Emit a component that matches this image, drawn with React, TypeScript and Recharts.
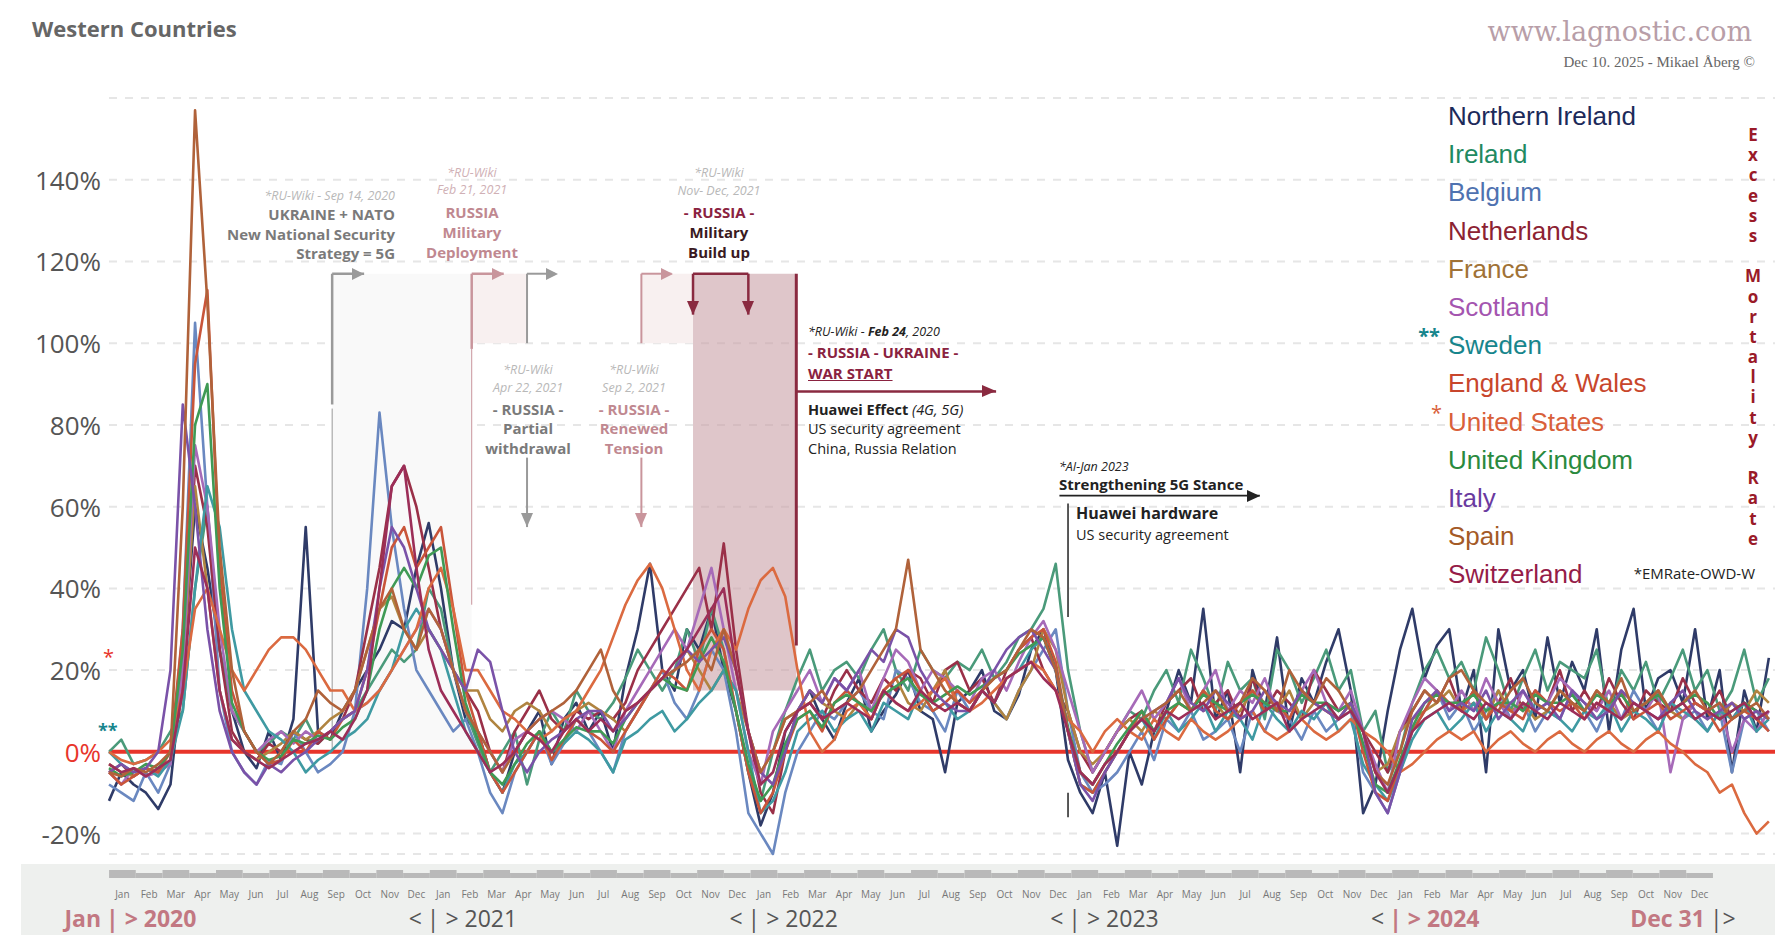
import React from "react";
import { LineChart, Line, XAxis, YAxis, CartesianGrid, ReferenceLine, ReferenceArea } from "recharts";

const seriesNames = ["Northern Ireland","Ireland","Belgium","Netherlands","France","Scotland","Sweden","England & Wales","United States","United Kingdom","Italy","Spain","Switzerland"];
const legendColors = ["#1c2a5a","#1f8a62","#4f72b0","#8c2232","#a07236","#a455b0","#17858c","#c8462c","#d9603a","#2a8a3e","#6a3aa0","#a45a26","#951c48"];
const lineColors = ["#2f3b68","#4a9a7a","#6a88c0","#9a3048","#b08440","#a66ab8","#3f9aa2","#c9553a","#db6a40","#3f9a55","#7a52a8","#b0623a","#9c2e58"];

const northernIreland = [-12,-5,-8,-10,-14,-8,20,60,45,25, 10,0,-4,5,-2,8,55,5,3,10, 15,20,25,32,30,45,56,40,20,8, 5,-5,-10,0,5,10,-3,8,12,5, 10,0,18,30,46,20,15,30,25,35, 20,10,-5,-18,-10,5,10,15,8,3, 12,18,5,10,14,20,10,8,-5,12, 15,20,10,8,14,25,30,20,-2,-10, -15,-5,-23,0,-8,5,10,20,12,35, 8,15,-5,20,10,28,5,18,12,22, 30,15,-15,-8,10,25,35,18,26,30, 10,20,-5,30,15,20,8,28,12,22, 15,30,5,25,35,10,18,20,12,30, 8,20,-5,15,5,23];
const ireland = [0,3,-3,-2,0,5,10,40,60,25, 10,5,0,2,5,3,8,2,5,8, 10,15,20,25,22,25,40,35,20,10, 2,-5,0,5,-8,3,10,5,15,10, 8,12,18,25,20,15,20,30,22,35, 25,10,-5,-12,0,10,18,25,15,20, 22,18,25,30,20,15,25,20,18,22, 20,25,18,22,28,30,35,46,20,5, -5,0,5,10,8,15,20,12,25,18, 10,22,15,18,8,25,20,12,18,25, 15,20,5,10,-5,0,12,20,25,18, 22,15,28,20,10,18,25,15,22,20, 18,25,10,20,15,22,12,18,25,15, 20,10,15,25,12,18];
const belgium = [-8,-10,-12,-5,-10,-3,30,105,60,15, 0,-5,-8,-2,-3,5,0,-5,-3,0, 10,40,83,55,35,20,15,10,5,8, 0,-10,-15,-5,0,5,-3,2,8,5, 0,-5,5,10,15,20,12,8,15,25, 20,5,-15,-20,-25,-10,0,5,10,8, 12,15,10,8,20,18,12,10,5,15, 10,15,12,8,15,20,25,30,10,-5, -10,-8,-5,0,5,-2,8,5,10,3, 5,8,0,10,5,12,8,3,10,5, 8,10,-5,-10,-15,-5,5,10,15,8, 12,5,10,15,8,12,5,10,8,15, 10,5,12,8,15,10,5,12,8,10, 5,10,-5,8,10,5];
const netherlands = [-5,-3,-6,-4,-5,-2,15,70,55,25, 5,0,-2,2,0,5,3,2,5,8, 15,30,45,65,70,60,45,30,20,15, 10,0,-5,5,10,15,8,5,10,8, 10,8,12,20,25,30,35,40,45,30, 51,25,5,-10,-15,0,10,12,8,15, 20,15,12,18,15,20,18,12,20,22, 15,18,12,20,25,28,20,15,10,0, -5,0,5,8,10,5,12,15,18,10, 12,15,8,18,10,15,12,8,20,15, 10,12,5,0,-5,5,10,15,12,18, 10,15,8,12,18,10,15,12,20,10, 15,10,18,12,8,15,12,10,18,12, 10,15,8,12,10,8];
const france = [-3,-5,-6,-4,-5,-2,20,65,40,15, 3,0,-2,0,2,5,3,5,8,10, 15,25,35,38,30,25,30,25,20,15, 15,8,5,10,12,10,5,8,10,12, 10,8,5,10,15,18,20,25,20,15, 20,15,5,-5,0,8,10,15,12,10, 8,12,10,15,18,12,10,15,20,12, 10,15,12,8,15,20,30,25,10,0, -3,0,5,8,5,10,8,12,10,15, 12,8,10,15,12,10,15,8,12,10, 8,12,5,-5,-3,5,8,10,12,15, 10,12,8,15,10,12,8,10,15,12, 10,15,12,8,10,12,15,10,8,12, 10,8,12,10,15,12];
const scotland = [-5,-8,-4,-6,-5,-3,20,75,60,30, 10,5,0,3,5,2,5,3,5,8, 10,12,15,20,25,30,35,30,20,10, 5,0,-5,3,5,8,10,8,5,10, 5,0,10,15,20,25,30,25,35,45, 30,15,0,-8,5,10,15,20,12,18, 15,20,10,18,25,22,15,20,18,15, 12,18,20,15,22,28,32,25,15,5, -5,0,5,10,15,8,12,18,10,15, 20,10,15,12,18,10,8,15,20,12, 10,15,5,-3,-10,5,12,18,15,10, 15,10,18,12,8,15,10,12,18,15, 12,10,15,8,12,10,15,-5,8,12, 10,12,0,8,5,10];
const sweden = [0,-3,-5,-4,-6,-2,10,40,65,55, 30,15,10,5,3,0,-5,-2,0,3, 5,8,15,20,30,35,30,25,15,5, 0,-5,-10,-3,0,5,0,2,5,3, 0,-5,3,5,8,10,5,8,12,15, 20,15,0,-15,-12,-5,5,8,10,5, 8,10,5,12,10,8,15,10,12,8, 10,15,12,18,20,25,28,20,5,-8, -10,-5,0,5,8,3,10,5,8,12, 5,10,8,3,12,8,5,10,8,12, 5,8,-3,-8,-12,-5,3,8,10,5, 8,12,5,10,8,5,12,10,8,5, 10,8,12,5,10,8,5,12,10,8, 5,10,8,12,5,8];
const englandWales = [-5,-8,-6,-4,-5,0,30,95,113,45, 15,5,0,-3,-2,3,0,5,3,8, 10,20,35,50,55,45,50,55,35,15, 5,-5,-10,-5,0,5,-2,3,8,5, 3,0,5,10,15,20,18,15,25,30, 25,10,-5,-15,-10,0,8,10,5,12, 15,12,8,15,18,20,15,10,12,15, 12,15,18,20,25,28,30,22,5,-8, -10,-5,0,5,10,3,8,12,10,15, 10,8,12,15,10,12,8,15,12,10, 8,12,0,-10,-12,-3,5,10,15,12, 10,15,8,12,10,8,15,12,10,12, 8,12,10,15,8,10,12,8,10,12, 10,5,8,10,8,5];
const unitedStates = [0,-2,-3,-2,0,3,15,35,40,30, 20,15,20,25,28,28,25,20,15,15, 10,12,15,20,25,30,40,45,35,20, 20,15,10,8,5,3,5,8,10,15, 20,28,36,42,46,40,30,20,15,25, 30,25,35,42,45,38,20,5,0,3, 10,12,8,15,12,10,12,15,18,12, 10,12,15,18,20,22,20,15,8,5, 0,5,8,5,3,8,5,3,8,5, 3,5,8,10,5,3,5,8,5,3, 5,8,5,3,0,-5,-3,0,3,5, 3,5,0,3,5,2,0,3,5,2, 0,3,5,2,0,3,5,2,0,-3, -5,-10,-8,-15,-20,-17];
const unitedKingdom = [-4,-6,-5,-3,-4,0,25,80,90,40, 12,5,0,-2,-1,3,2,4,3,6, 8,15,30,40,45,40,48,50,30,12, 3,-5,-8,-3,2,5,0,3,6,5, 5,2,8,12,15,18,16,15,22,28, 22,10,-3,-12,-8,2,8,10,6,12, 14,12,10,14,16,18,14,12,14,16, 14,16,18,20,24,26,28,20,6,-5, -8,-3,2,6,10,5,10,12,10,14, 12,10,12,14,12,10,10,14,12,12, 10,12,2,-8,-10,-2,6,12,14,12, 12,14,10,12,12,10,14,12,12,14, 10,14,12,14,10,12,14,10,12,14, 12,8,10,12,10,8];
const italy = [-5,-3,-5,-4,0,20,85,60,30,10, 0,-5,-8,-3,-5,-2,0,3,5,8, 10,20,40,55,50,40,30,25,20,15, 25,22,10,0,-5,0,3,5,8,10, 10,5,8,12,15,18,20,25,22,25, 28,20,5,-5,-8,0,10,15,12,18, 15,20,25,22,30,28,20,15,12,10, 10,15,20,25,28,30,25,20,5,-8, -12,-5,0,5,8,10,12,18,12,10, 15,12,8,10,15,12,10,15,12,10, 8,12,5,-10,-15,-5,8,12,15,10, 12,10,15,8,12,15,10,12,8,15, 12,8,10,15,12,10,8,12,15,10, 8,10,12,8,10,8];
const spain = [-5,-6,-4,-5,-3,0,60,157,110,50, 20,5,0,-3,0,5,8,15,12,10, 15,25,35,40,30,25,35,30,20,10, 5,0,-5,0,5,8,10,12,15,20, 25,15,10,12,15,18,20,22,25,20, 30,20,5,-5,0,8,10,12,15,10, 12,15,20,25,30,47,25,20,15,12, 10,15,18,20,25,30,28,20,5,-5, -8,-3,0,5,8,10,12,15,10,12, 15,10,12,18,15,10,20,15,12,18, 15,10,5,-5,-8,0,10,15,12,18, 20,15,12,10,15,18,12,10,15,12, 10,15,12,18,10,12,15,10,12,15, 10,12,8,10,12,8];
const switzerland = [-3,-5,-4,-6,-4,-2,15,50,40,15, 3,0,-2,-4,-2,0,2,3,5,3, 8,15,40,65,70,45,25,15,10,5, 0,-5,-3,0,5,3,0,5,8,5, 8,5,10,12,15,18,22,25,30,35, 40,20,5,-8,-5,5,10,12,8,10, 12,10,8,15,12,10,15,12,10,12, 10,15,12,18,20,22,18,15,5,-5, -8,-3,0,5,8,5,10,8,10,12, 8,10,12,8,10,12,5,8,10,12, 8,10,5,-5,-10,-3,5,8,10,12, 10,8,12,10,8,12,10,8,12,10, 8,12,10,8,12,10,8,10,12,8, 10,8,10,12,8,10];

const allSeries = [northernIreland, ireland, belgium, netherlands, france, scotland, sweden, englandWales, unitedStates, unitedKingdom, italy, spain, switzerland];
const keys = ["ni","ie","be","nl","fr","sc","se","ew","us","uk","it","es","ch"];
const monthLabels = ["Jan","Feb","Mar","Apr","May","Jun","Jul","Aug","Sep","Oct","Nov","Dec"];
const years = [2020, 2021, 2022, 2023, 2024];
const yTicks = [-20, 0, 20, 40, 60, 80, 100, 120, 140];
const WEEKS_PER_YEAR = 52.18;

const data = northernIreland.map((_, i) => {
  const row: any = { w: i * 2 };
  keys.forEach((k, s) => { row[k] = allSeries[s][i]; });
  return row;
});
const monthTicks = Array.from({ length: 60 }, (_, m) => (m + 0.5) * WEEKS_PER_YEAR / 12);
const yearTicks = [...years.map((y, i) => i * WEEKS_PER_YEAR), 5 * WEEKS_PER_YEAR];

const FONT = "'Open Sans', 'Liberation Sans', sans-serif";
const ROSE = "#c27882";

const MonthTick = (p: any) => {
  const idx = p.index;
  const h = idx % 2 === 0 ? 8 : 5;
  return (
    <g>
      <rect x={p.x - 13.3} y={p.y + 24 - h} width={26.7} height={h} fill="#b9b9b9" />
      <text x={p.x} y={p.y + 40} textAnchor="middle" dominantBaseline="central" fontSize={10} fill="#777" fontFamily={FONT}>{monthLabels[idx % 12]}</text>
    </g>
  );
};

const YearTick = (p: any) => {
  const i = p.index;
  const x = p.x, y = p.y + 19;
  const fs = 23;
  if (i === 0) return (
    <g fontFamily={FONT} fontSize={fs} dominantBaseline="central">
      <text x={x - 8} y={y} textAnchor="end" fill={ROSE} fontWeight="bold">Jan</text>
      <text x={x - 3} y={y} fill={ROSE} fontWeight="bold">| &gt; 2020</text>
    </g>
  );
  if (i === 5) return (
    <g fontFamily={FONT} fontSize={fs} dominantBaseline="central">
      <text x={x - 8} y={y} textAnchor="end" fill={ROSE} fontWeight="bold">Dec 31</text>
      <text x={x - 3} y={y} fill="#555">|&gt;</text>
    </g>
  );
  const highlight = years[i] === 2024;
  return (
    <g fontFamily={FONT} fontSize={fs} dominantBaseline="central">
      <text x={x - 8} y={y} textAnchor="end" fill="#555">&lt;</text>
      <text x={x - 3} y={y} fill={highlight ? ROSE : "#555"} fontWeight={highlight ? "bold" : "normal"}>| &gt; {years[i]}</text>
    </g>
  );
};

const YTick = (p: any) => {
  const v = p.payload.value;
  return (
    <text x={p.x - 6} y={p.y} textAnchor="end" dominantBaseline="central" fontSize={26} fontFamily={FONT} fill={v === 0 ? "#e8352b" : "#555"}>{v}%</text>
  );
};

const T = ({ x, y, a = "middle", children, s = {} }: any) => {
  const tx = a === "middle" ? "-50%" : a === "end" ? "-100%" : "0";
  return <div style={{ position: "absolute", left: x, top: y, transform: `translate(${tx},-50%)`, whiteSpace: "nowrap", fontFamily: FONT, textAlign: a === "middle" ? "center" : a === "end" ? "right" : "left", ...s }}>{children}</div>;
};

const wiki = { fontSize: 12.5, fontStyle: "italic", color: "#b8b8b8" };
const boldGray = { fontSize: 15, fontWeight: 700, color: "#7a7a7a" };
const boldPink = { fontSize: 15, fontWeight: 700, color: "#c08890" };
const boldMaroon = { fontSize: 15, fontWeight: 700, color: "#8a2240" };
const dark = { fontSize: 14.5, color: "#222" };

const GRAY = "#9a9a9a", PINK = "#c9959c", MAROON = "#8a2a40";

export default function App() {
  const vertical = "Excess Mortality Rate".split("");
  return (
    <div style={{ position: "relative", width: 1792, height: 943, margin: -8, background: "#fff", overflow: "hidden" }}>
      <div style={{ position: "absolute", left: 21, top: 864, width: 1754, height: 80, background: "#eef0ee" }} />
      <LineChart width={1792} height={943} data={data} margin={{ top: 98, right: 17, bottom: 0, left: 0 }} style={{ position: "absolute", left: 0, top: 0 }}>
        <CartesianGrid horizontal vertical={false} stroke="#e6e6e6" strokeDasharray="8 8" strokeWidth={2} />
        <XAxis xAxisId="m" dataKey="w" type="number" domain={[0, 271]} ticks={monthTicks} tick={<MonthTick />} tickLine={false} axisLine={false} height={45} tickSize={0} tickMargin={0} interval={0} />
        <XAxis xAxisId="y" dataKey="w" type="number" domain={[0, 271]} ticks={yearTicks} tick={<YearTick />} tickLine={false} axisLine={false} height={44} tickSize={0} tickMargin={0} interval={0} />
        <YAxis type="number" domain={[-25, 160]} ticks={yTicks} tick={<YTick />} width={109} axisLine={false} tickLine={false} tickSize={0} interval={0} />

        <ReferenceArea xAxisId="m" x1={36.3} x2={59} y1={0} y2={117} fill="#f9f9f9" fillOpacity={1} stroke="none" ifOverflow="visible" />
        <ReferenceArea xAxisId="m" x1={59} x2={68} y1={100} y2={117} fill="#f8f0f0" fillOpacity={1} stroke="none" ifOverflow="visible" />
        <ReferenceArea xAxisId="m" x1={86.6} x2={95} y1={100} y2={117} fill="#f8f0f0" fillOpacity={1} stroke="none" ifOverflow="visible" />
        <ReferenceArea xAxisId="m" x1={95} x2={111.8} y1={15} y2={117} fill="#c9a0a6" fillOpacity={0.6} stroke="none" ifOverflow="visible" />

        <ReferenceLine xAxisId="m" y={0} stroke="#e8352b" strokeWidth={4} />

        <ReferenceLine xAxisId="m" segment={[{ x: 36.3, y: 84 }, { x: 36.3, y: 0 }]} stroke={GRAY} strokeWidth={1} ifOverflow="visible" />
        <ReferenceLine xAxisId="m" segment={[{ x: 59, y: 98.6 }, { x: 59, y: 36 }]} stroke={PINK} strokeWidth={1} ifOverflow="visible" />

        {keys.map((k, s) => (
          <Line key={k} xAxisId="m" dataKey={k} type="linear" stroke={lineColors[s]} strokeWidth={2.6} dot={false} isAnimationActive={false} strokeLinejoin="round" />
        ))}

        <ReferenceLine xAxisId="m" segment={[{ x: 36.3, y: 117 }, { x: 36.3, y: 85 }]} stroke={GRAY} strokeWidth={2.5} ifOverflow="visible" />
        <ReferenceLine xAxisId="m" segment={[{ x: 36.3, y: 117 }, { x: 41.5, y: 117 }]} stroke={GRAY} strokeWidth={2.5} ifOverflow="visible" />
        <ReferenceLine xAxisId="m" segment={[{ x: 59, y: 117 }, { x: 59, y: 98.6 }]} stroke={PINK} strokeWidth={2.5} ifOverflow="visible" />
        <ReferenceLine xAxisId="m" segment={[{ x: 59, y: 117 }, { x: 64.2, y: 117 }]} stroke={PINK} strokeWidth={2.5} ifOverflow="visible" />
        <ReferenceLine xAxisId="m" segment={[{ x: 68, y: 117 }, { x: 68, y: 100 }]} stroke={GRAY} strokeWidth={2} ifOverflow="visible" />
        <ReferenceLine xAxisId="m" segment={[{ x: 68, y: 117 }, { x: 72.5, y: 117 }]} stroke={GRAY} strokeWidth={2} ifOverflow="visible" />
        <ReferenceLine xAxisId="m" segment={[{ x: 68, y: 72 }, { x: 68, y: 55 }]} stroke={GRAY} strokeWidth={2} ifOverflow="visible" />
        <ReferenceLine xAxisId="m" segment={[{ x: 86.6, y: 117 }, { x: 86.6, y: 100 }]} stroke={PINK} strokeWidth={2} ifOverflow="visible" />
        <ReferenceLine xAxisId="m" segment={[{ x: 86.6, y: 117 }, { x: 91.5, y: 117 }]} stroke={PINK} strokeWidth={2} ifOverflow="visible" />
        <ReferenceLine xAxisId="m" segment={[{ x: 86.6, y: 72 }, { x: 86.6, y: 55 }]} stroke={PINK} strokeWidth={2} ifOverflow="visible" />
        <ReferenceLine xAxisId="m" segment={[{ x: 95, y: 117 }, { x: 104, y: 117 }]} stroke={MAROON} strokeWidth={2.5} ifOverflow="visible" />
        <ReferenceLine xAxisId="m" segment={[{ x: 95, y: 117 }, { x: 95, y: 107 }]} stroke={MAROON} strokeWidth={2.5} ifOverflow="visible" />
        <ReferenceLine xAxisId="m" segment={[{ x: 104, y: 117 }, { x: 104, y: 107 }]} stroke={MAROON} strokeWidth={2.5} ifOverflow="visible" />
        <ReferenceLine xAxisId="m" segment={[{ x: 111.8, y: 117 }, { x: 111.8, y: 26 }]} stroke={MAROON} strokeWidth={3} ifOverflow="visible" />
        <ReferenceLine xAxisId="m" segment={[{ x: 111.8, y: 88.2 }, { x: 144.3, y: 88.2 }]} stroke={MAROON} strokeWidth={2.5} ifOverflow="visible" />
        <ReferenceLine xAxisId="m" segment={[{ x: 156, y: 60.8 }, { x: 156, y: 33 }]} stroke="#222" strokeWidth={1.5} ifOverflow="visible" />
        <ReferenceLine xAxisId="m" segment={[{ x: 156, y: -10 }, { x: 156, y: -16 }]} stroke="#222" strokeWidth={1.5} ifOverflow="visible" />
        <ReferenceLine xAxisId="m" segment={[{ x: 154.6, y: 62.7 }, { x: 187.2, y: 62.7 }]} stroke="#222" strokeWidth={1.8} ifOverflow="visible" />
      </LineChart>

      <svg width={1792} height={943} style={{ position: "absolute", left: 0, top: 0, pointerEvents: "none" }}>
        <polygon points="364,274 352,268 352,280" fill={GRAY} />
        <polygon points="504,274 492,268 492,280" fill={PINK} />
        <polygon points="558,274 546,268 546,280" fill={GRAY} />
        <polygon points="673,274 661,268 661,280" fill={PINK} />
        <polygon points="527,527 521,513 533,513" fill={GRAY} />
        <polygon points="641,527 635,513 647,513" fill={PINK} />
        <polygon points="693,315 687,301 699,301" fill={MAROON} />
        <polygon points="748,315 742,301 754,301" fill={MAROON} />
        <polygon points="996,391 982,385 982,397" fill={MAROON} />
        <polygon points="1260,496 1247,490 1247,502" fill="#222" />
      </svg>

      <T x={32} y={28} a="start" s={{ fontSize: 22, fontWeight: 700, color: "#666" }}>Western Countries</T>
      <T x={1752} y={31} a="end" s={{ fontSize: 27, color: "#b89ea8", fontFamily: "'DejaVu Serif', 'Liberation Serif', serif" }}>www.lagnostic.com</T>
      <T x={1755} y={62} a="end" s={{ fontSize: 15, color: "#666", fontFamily: "'Liberation Serif', serif" }}>Dec 10. 2025 - Mikael Åberg ©</T>

      {seriesNames.map((n, i) => (
        <T key={n} x={1448} y={116 + i * 38.2} a="start" s={{ fontSize: 26, color: legendColors[i], fontFamily: "'Liberation Sans', Arial, sans-serif" }}>{n}</T>
      ))}
      <T x={1440} y={335} a="end" s={{ fontSize: 20, color: "#17858c", fontWeight: 700 }}>**</T>
      <T x={1442} y={412} a="end" s={{ fontSize: 20, color: "#d9603a" }}>*</T>
      <T x={1755} y={573} a="end" s={{ fontSize: 15, color: "#222" }}>*EMRate-OWD-W</T>
      <div style={{ position: "absolute", left: 1743, top: 125, width: 20, textAlign: "center", fontFamily: FONT, fontWeight: 700, fontSize: 17, lineHeight: "20.2px", color: "#9a1a28" }}>
        {vertical.map((c, i) => <div key={i} style={{ height: 20.2 }}>{c === " " ? "\u00a0" : c}</div>)}
      </div>
      <T x={103} y={656} a="start" s={{ fontSize: 20, color: "#e8352b" }}>*</T>
      <T x={98} y={730} a="start" s={{ fontSize: 18, color: "#17858c", fontWeight: 700 }}>**</T>

      <T x={395} y={195} a="end" s={wiki}>*RU-Wiki  - Sep 14, 2020</T>
      <T x={395} y={214} a="end" s={boldGray}>UKRAINE + NATO</T>
      <T x={395} y={234} a="end" s={boldGray}>New National Security</T>
      <T x={395} y={253} a="end" s={boldGray}>Strategy = 5G</T>

      <T x={472} y={172} s={{ ...wiki, color: "#d0b0b5" }}>*RU-Wiki</T>
      <T x={472} y={189} s={{ ...wiki, color: "#d0b0b5" }}>Feb 21, 2021</T>
      <T x={472} y={212} s={boldPink}>RUSSIA</T>
      <T x={472} y={232} s={boldPink}>Military</T>
      <T x={472} y={252} s={boldPink}>Deployment</T>

      <T x={528} y={369} s={wiki}>*RU-Wiki</T>
      <T x={528} y={387} s={wiki}>Apr 22, 2021</T>
      <T x={528} y={409} s={boldGray}>- RUSSIA -</T>
      <T x={528} y={428} s={boldGray}>Partial</T>
      <T x={528} y={448} s={boldGray}>withdrawal</T>

      <T x={634} y={369} s={wiki}>*RU-Wiki</T>
      <T x={634} y={387} s={wiki}>Sep 2, 2021</T>
      <T x={634} y={409} s={boldPink}>- RUSSIA -</T>
      <T x={634} y={428} s={boldPink}>Renewed</T>
      <T x={634} y={448} s={boldPink}>Tension</T>

      <T x={719} y={172} s={wiki}>*RU-Wiki</T>
      <T x={719} y={190} s={wiki}>Nov- Dec, 2021</T>
      <T x={719} y={212} s={boldMaroon}>- RUSSIA -</T>
      <T x={719} y={232} s={{ ...boldMaroon, color: "#3a1a22" }}>Military</T>
      <T x={719} y={252} s={{ ...boldMaroon, color: "#3a1a22" }}>Build up</T>

      <T x={808} y={331} a="start" s={{ fontSize: 12.5, fontStyle: "italic", color: "#222" }}>*RU-Wiki  - <b>Feb 24</b>, 2020</T>
      <T x={808} y={352} a="start" s={boldMaroon}>- RUSSIA - UKRAINE -</T>
      <T x={808} y={373} a="start" s={{ ...boldMaroon, textDecoration: "underline" }}>WAR START</T>
      <T x={808} y={409} a="start" s={dark}><b>Huawei Effect</b> <i>(4G, 5G)</i></T>
      <T x={808} y={428} a="start" s={dark}>US security agreement</T>
      <T x={808} y={448} a="start" s={dark}>China, Russia Relation</T>

      <T x={1059} y={466} a="start" s={{ fontSize: 12.5, fontStyle: "italic", color: "#222" }}>*AI-Jan 2023</T>
      <T x={1059} y={484} a="start" s={{ fontSize: 15, fontWeight: 700, color: "#222" }}>Strengthening 5G Stance</T>
      <T x={1076} y={513} a="start" s={{ fontSize: 16, fontWeight: 700, color: "#222" }}>Huawei hardware</T>
      <T x={1076} y={534} a="start" s={dark}>US security agreement</T>
    </div>
  );
}
